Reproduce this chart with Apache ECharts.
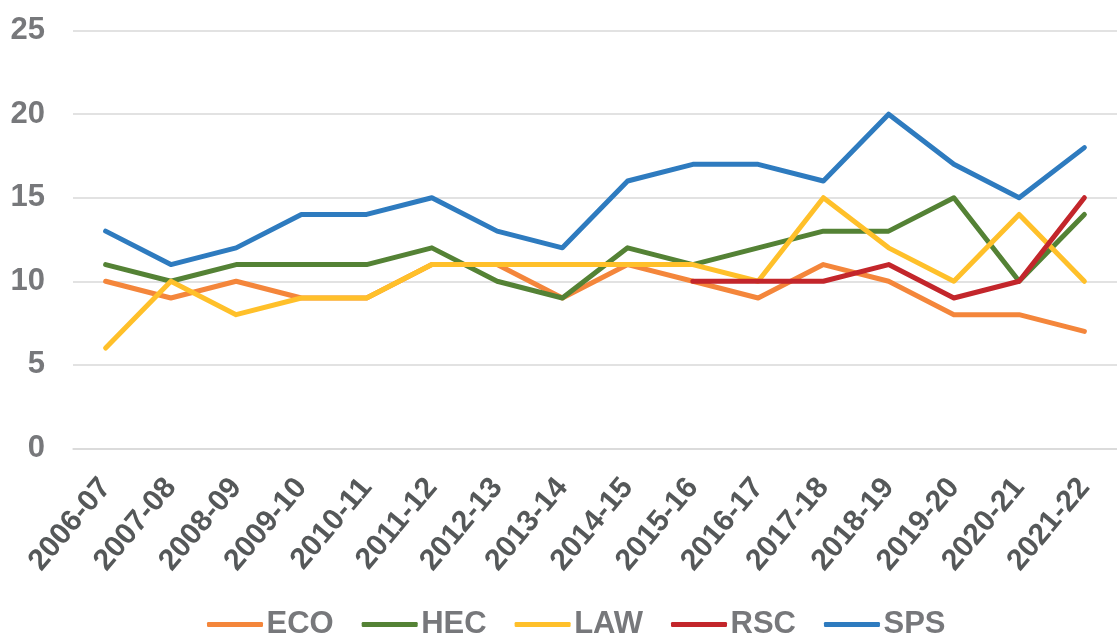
<!DOCTYPE html>
<html>
<head>
<meta charset="utf-8">
<script src="https://cdn.jsdelivr.net/npm/echarts@6/dist/echarts.min.js"></script>
<style>
html,body{margin:0;padding:0;background:#fff;}
#c{width:1117px;height:638px;}
</style>
</head>
<body>
<div id="c"></div>
<script>
var categories = ['2006-07','2007-08','2008-09','2009-10','2010-11','2011-12','2012-13','2013-14','2014-15','2015-16','2016-17','2017-18','2018-19','2019-20','2020-21','2021-22'];
var ECO = [10, 9, 10, 9, 9, 11, 11, 9, 11, 10, 9, 11, 10, 8, 8, 7];
var HEC = [11, 10, 11, 11, 11, 12, 10, 9, 12, 11, 12, 13, 13, 15, 10, 14];
var LAW = [6, 10, 8, 9, 9, 11, 11, 11, 11, 11, 10, 15, 12, 10, 14, 10];
var RSC = [null, null, null, null, null, null, null, null, null, 10, 10, 10, 11, 9, 10, 15];
var SPS = [13, 11, 12, 14, 14, 15, 13, 12, 16, 17, 17, 16, 20, 17, 15, 18];
var yTicks = [0, 5, 10, 15, 20, 25];

var names = ['ECO','HEC','LAW','RSC','SPS'];
var datas = [ECO, HEC, LAW, RSC, SPS];
var colors = ['#F4863B','#548235','#FFC02A','#C3262B','#2E7BBF'];
var FONT = 'Liberation Sans, Arial, sans-serif';

var chart = echarts.init(document.getElementById('c'));
chart.setOption({
  animation: false,
  grid: {left: 73, right: -13, top: 30.7, bottom: 189.7, containLabel: false},
  legend: {
    top: 604,
    left: 202,
    icon: 'roundRect',
    itemWidth: 56,
    itemHeight: 5,
    itemGap: 28,
    textStyle: {fontFamily: FONT, fontWeight: 'bold', fontSize: 31, color: '#77787b', padding: [0,0,0,-1.5]},
    data: names
  },
  xAxis: {
    type: 'category',
    data: categories,
    boundaryGap: true,
    axisLine: {lineStyle: {color: '#d9d9d9', width: 1.5}},
    axisTick: {show: false},
    axisLabel: {rotate: 50, margin: 34, interval: 0, verticalAlign: 'middle', fontFamily: FONT, fontWeight: 'bold', fontSize: 30, color: '#555859'}
  },
  yAxis: {
    type: 'value',
    min: yTicks[0],
    max: yTicks[yTicks.length-1],
    interval: 5,
    axisLine: {show: false},
    axisTick: {show: false},
    splitLine: {lineStyle: {color: '#d9d9d9', width: 1.5}},
    axisLabel: {margin: 28, fontFamily: FONT, fontWeight: 'bold', fontSize: 31, color: '#77787b'}
  },
  series: names.map(function(n, i){
    return {
      name: n,
      type: 'line',
      data: datas[i],
      symbol: 'none',
      connectNulls: false,
      lineStyle: {color: colors[i], width: 5, cap: 'round', join: 'round'},
      itemStyle: {color: colors[i]}
    };
  })
});
</script>
</body>
</html>
